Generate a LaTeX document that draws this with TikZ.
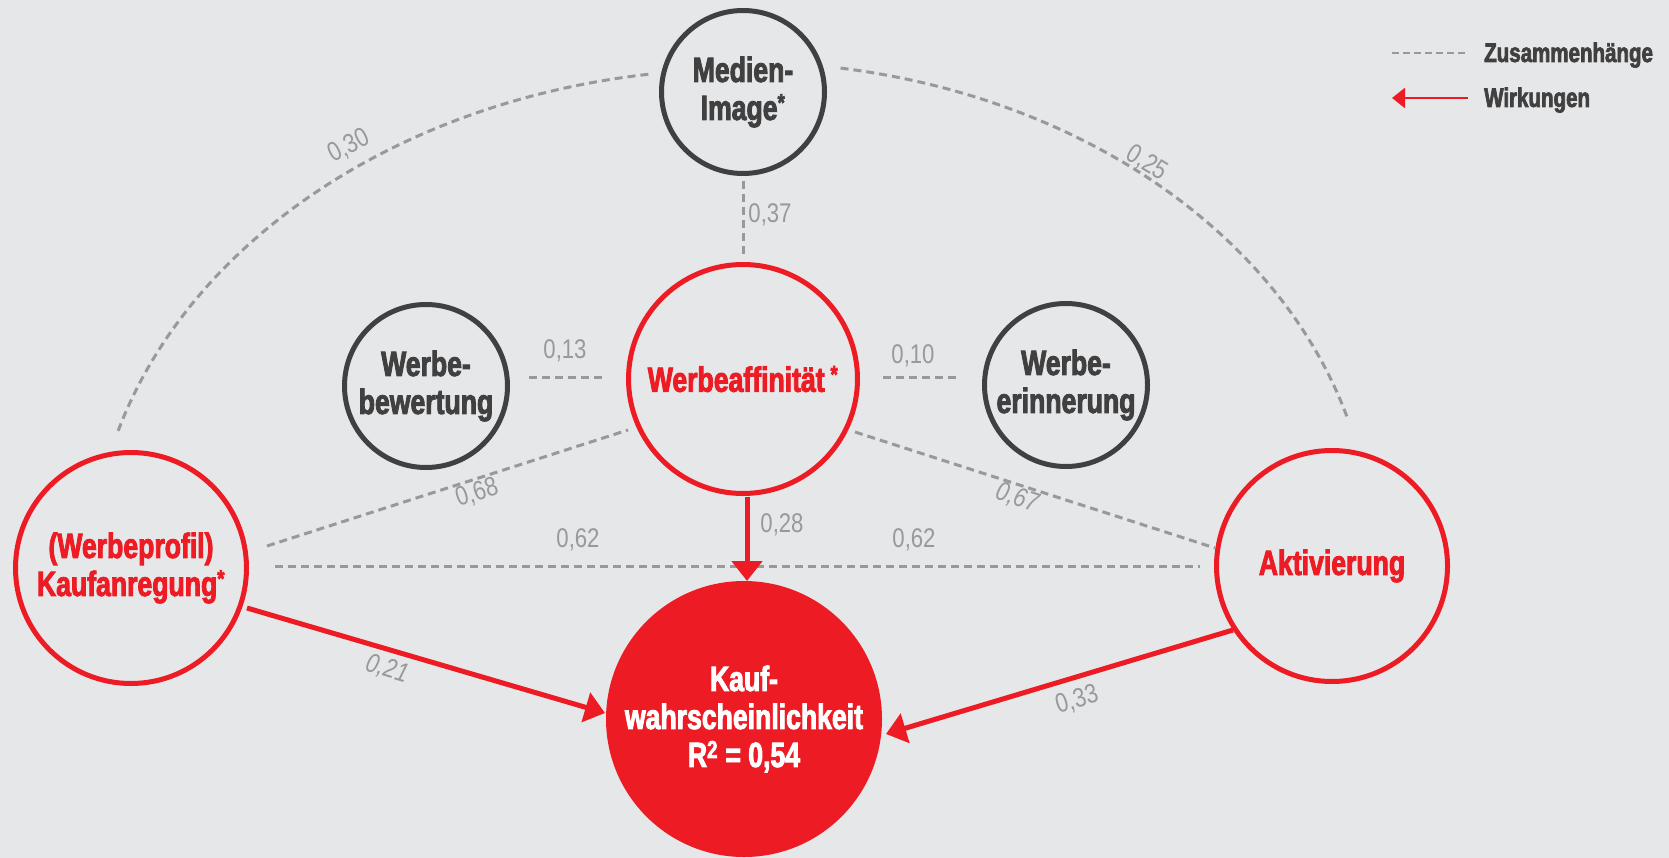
\documentclass[tikz,border=0pt]{standalone}
\usepackage{fontspec}
\setmainfont{Liberation Sans}
\newfontfamily\heavy[FakeStretch=0.76,FakeBold=2.5]{Liberation Sans}
\newfontfamily\numf[FakeStretch=0.82]{Liberation Sans}
\usetikzlibrary{arrows.meta,calc}
\definecolor{bg}{HTML}{E6E7E8}
\definecolor{myred}{HTML}{ED1C24}
\definecolor{dgray}{HTML}{404041}
\definecolor{lgray}{HTML}{999999}
\begin{document}
\begin{tikzpicture}[x=1pt,y=-1pt,
  circ/.style={circle,inner sep=0pt,line width=5pt,align=center,font=\heavy\bfseries\fontsize{35}{38}\selectfont},
  graycirc/.style={circ,draw=dgray,text=dgray},
  redcirc/.style={circ,draw=myred,text=myred},
  dashline/.style={draw=lgray,line width=3pt,dash pattern=on 8pt off 5pt},
  redarrow/.style={draw=myred,line width=5pt,-{Triangle[width=30pt,length=20pt]}},
  num/.style={text=lgray,font=\numf\fontsize{27}{30}\selectfont,inner sep=0pt},
  numit/.style={text=lgray,font=\numf\itshape\fontsize{27}{30}\selectfont,inner sep=0pt},
  legtext/.style={text=dgray,font=\heavy\bfseries\fontsize{27}{30}\selectfont,anchor=base west,inner sep=0pt}]
\fill[bg] (0,0) rectangle (1669,858);
\useasboundingbox (0,0) rectangle (1669,858);

% nodes
\node[graycirc,minimum size=163pt] (mi) at (743,92) {Medien-\\Image\textsuperscript{*}};
\node[redcirc,minimum size=229pt] (wa) at (743,379) {Werbeaffinität\,\textsuperscript{*}};
\node[graycirc,minimum size=163pt] (wb) at (426,386) {Werbe-\\bewertung};
\node[graycirc,minimum size=163pt] (we) at (1066,385) {Werbe-\\erinnerung};
\node[redcirc,minimum size=231pt] (ka) at (131,568) {(Werbeprofil)\\Kaufanregung\textsuperscript{*}};
\node[redcirc,minimum size=231pt] (ak) at (1332,566) {Aktivierung};
\node[circ,fill=myred,text=white,minimum size=276pt,line width=0pt,outer sep=0pt] (kw) at (744,719) {Kauf-\\wahrscheinlichkeit\\R\textsuperscript{2} = 0,54};

% dashed correlations
\draw[dashline] ([shift={(0,89)}]mi.center) -- ([shift={(0,-124)}]wa.center);
\draw[dashline] ([shift={(103,-9)}]wb.center) -- ([shift={(-138,-2)}]wa.center);
\draw[dashline] ([shift={(140,-2)}]wa.center) -- ([shift={(-106,-8)}]we.center);
\draw[dashline] ([shift={(136,-22)}]ka.center) -- ([shift={(-115,51)}]wa.center);
\draw[dashline] ([shift={(112,53)}]wa.center) -- ([shift={(-117,-18)}]ak.center);
\draw[dashline] ([shift={(144,-2)}]ka.center) -- ([shift={(-132,0)}]ak.center);
\draw[dashline] plot[domain=163.7:98,samples=80] ({742+650*cos(\x)},{572-503*sin(\x)});
\draw[dashline] plot[domain=81:16.2,samples=80] ({742+630*cos(\x)},{554-492*sin(\x)});

% red effects
\draw[redarrow] ([shift={(4,118)}]wa.center) -- ([shift={(3,-138)}]kw.center);
\draw[redarrow] ([shift={(116,40)}]ka.center) -- ([shift={(-139,-6)}]kw.center);
\draw[redarrow] ([shift={(-99,64)}]ak.center) -- ([shift={(142,15)}]kw.center);

% labels
\node[num,rotate=27] (l30) at (349,146) {0,30};
\node[num,rotate=-31] (l25) at (1147,163) {0,25};
\node[num] (l37) at (770,215) {0,37};
\node[num] (l13) at (565,351) {0,13};
\node[num] (l10) at (913,356) {0,10};
\node[num,rotate=18] (l68) at (477,493) {0,68};
\node[num] (l62a) at (578,540) {0,62};
\node[num] (l62b) at (914,540) {0,62};
\node[numit,rotate=-18] (l67) at (1017,498) {0,67};
\node[num] (l28) at (782,525) {0,28};
\node[numit,rotate=-17] (l21) at (387,669) {0,21};
\node[num,rotate=17] (l33) at (1077,700) {0,33};

% legend
\coordinate (lza) at (1392,53);
\coordinate (lzb) at (1468,53);
\coordinate (lwa) at (1392,98);
\coordinate (lwb) at (1468,98);
\draw[draw=lgray,line width=2.5pt,dash pattern=on 7pt off 4pt] (lza) -- (lzb);
\draw[draw=myred,line width=2.5pt,-{Triangle[width=20pt,length=13pt]}] (lwb) -- (lwa);
\node[legtext] (lz) at (1484,62) {Zusammenhänge};
\node[legtext] (lw) at (1484,107) {Wirkungen};
\end{tikzpicture}
\end{document}
